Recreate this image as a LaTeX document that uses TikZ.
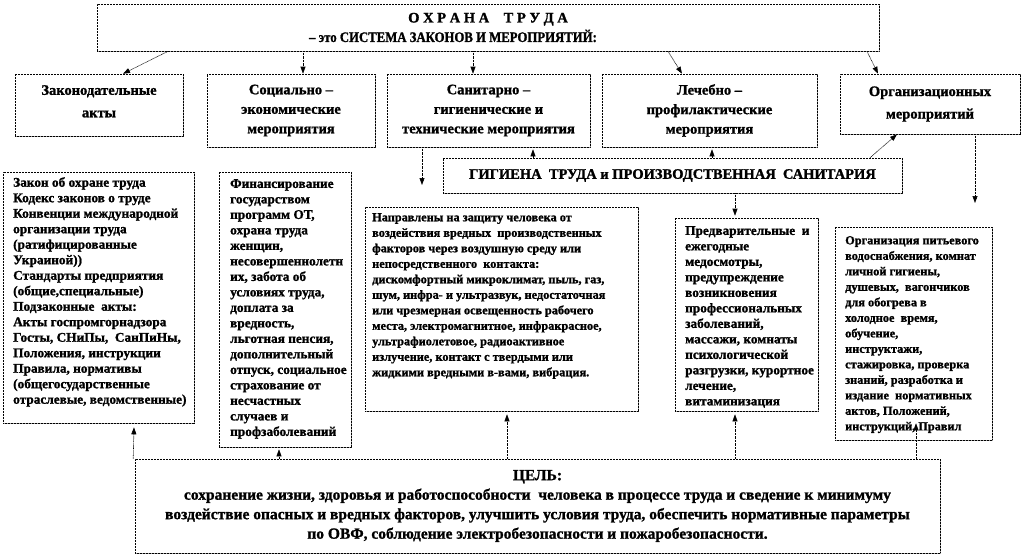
\documentclass[tikz,border=0pt]{standalone}
\usepackage{fontspec}
\setmainfont{Liberation Serif}[BoldFeatures={FakeBold=1.2}]
\usetikzlibrary{arrows.meta,calc,shadows}
\newcommand{\hdrfont}{\fontsize{14.5}{19.5}\selectfont\bfseries}
\newcommand{\detfont}{\fontsize{12.3}{15.5}\selectfont\bfseries}
\newcommand{\detbigfont}{\fontsize{13.3}{15.5}\selectfont\bfseries}
\newcommand{\goalfont}{\fontsize{15.5}{19.5}\selectfont\bfseries}
\begin{document}
\begin{tikzpicture}[x=1pt,y=-1pt,
  box/.style={draw=black, line width=0.6pt, dash pattern=on 0.9pt off 0.6pt, fill=white, inner sep=0pt,
    drop shadow={shadow xshift=1.2pt, shadow yshift=-1.2pt, fill=gray!70, opacity=1}},
  hdr/.style={box, align=center, font=\hdrfont},
  dtxt/.style={anchor=north west, align=left, inner sep=0pt, font=\detfont},
  dbig/.style={dtxt, font=\detbigfont},
  arr/.style={draw=black, line width=0.6pt, dash pattern=on 0.8pt off 0.6pt, -{Triangle[length=7pt,width=5pt]}}]
\useasboundingbox (0,0) rectangle (1026,558);
\fill[white] (0,0) rectangle (1026,558);

% top box
\node[hdr, minimum width=782pt, minimum height=47pt] (top) at (488,27.5)
  {О\ Х\ Р\ А\ Н\ А\ \ \ \ Т\ Р\ У\ Д\ А\\\makebox[0pt]{\scalebox{0.88}[1]{– это СИСТЕМА ЗАКОНОВ И МЕРОПРИЯТИЙ:}\hspace{70pt}}};

% row of boxes
\node[hdr, minimum width=168pt, minimum height=62pt] (zak) at (99,105) {Законодательные\\[3pt]акты\\[-12pt]};
\node[hdr, minimum width=168pt, minimum height=73pt] (soc) at (291,110.5) {Социально –\\экономические\\мероприятия};
\node[hdr, minimum width=203pt, minimum height=73pt] (san) at (488.5,110.5) {Санитарно –\\гигиенические и\\технические мероприятия};
\node[hdr, minimum width=215pt, minimum height=73pt] (lech) at (709.5,110.5) {Лечебно –\\профилактические\\мероприятия};
\node[hdr, minimum width=180pt, minimum height=60pt] (org) at (930,104) {Организационных\\[3pt]мероприятий};

% band
\node[hdr, minimum width=459pt, minimum height=35pt] (band) at (672.5,175.5) {ГИГИЕНА\ \ ТРУДА и ПРОИЗВОДСТВЕННАЯ\ \ САНИТАРИЯ};

% detail boxes
\node[box, minimum width=191pt, minimum height=251pt] (d1) at (98.5,297.5) {};
\node[box, minimum width=132pt, minimum height=275pt] (d2) at (285,309.5) {};
\node[box, minimum width=273pt, minimum height=204pt] (d3) at (501.5,309) {};
\node[box, minimum width=143pt, minimum height=193pt] (d4) at (746.5,314.5) {};
\node[box, minimum width=157pt, minimum height=213pt] (d5) at (913.5,333.5) {};

\node[dbig] (d1t) at (13,177) {Закон об охране труда\\Кодекс законов о труде\\Конвенции международной\\организации труда\\(ратифицированные\\Украиной))\\Стандарты предприятия\\(общие,специальные)\\Подзаконные\ \ акты:\\Акты госпромгорнадзора\\Госты, СНиПы,\ \ СанПиНы,\\Положения, инструкции\\Правила, нормативы\\(общегосударственные\\отраслевые, ведомственные)};

\node[dbig] (d2t) at (230,179) {Финансирование\\государством\\программ ОТ,\\охрана труда\\женщин,\\несовершеннолетн\\их, забота об\\условиях труда,\\доплата за\\вредность,\\льготная пенсия,\\дополнительный\\отпуск, социальное\\страхование от\\несчастных\\случаев и\\профзаболеваний};

\node[dtxt] (d3t) at (372,213) {Направлены на защиту человека от\\воздействия вредных\ \ производственных\\факторов через воздушную среду или\\непосредственного\ \ контакта:\\дискомфортный микроклимат, пыль, газ,\\шум, инфра- и ультразвук, недостаточная\\или чрезмерная освещенность рабочего\\места, электромагнитное, инфракрасное,\\ультрафиолетовое, радиоактивное\\излучение, контакт с твердыми или\\жидкими вредными в-вами, вибрация.};

\node[dbig] (d4t) at (685,226) {Предварительные\ \ и\\ежегодные\\медосмотры,\\предупреждение\\возникновения\\профессиональных\\заболеваний,\\массажи, комнаты\\психологической\\разгрузки, курортное\\лечение,\\витаминизация};

\node[dtxt] (d5t) at (845,236) {Организация питьевого\\водоснабжения, комнат\\личной гигиены,\\душевых,\ \ вагончиков\\для обогрева в\\холодное\ \ время,\\обучение,\\инструктажи,\\стажировка, проверка\\знаний, разработка и\\издание\ \ нормативных\\актов, Положений,\\инструкций, Правил};

% goal box
\node[box, minimum width=805pt, minimum height=94pt, align=center, font=\goalfont] (goal) at (537.5,506)
  {ЦЕЛЬ:\\сохранение жизни, здоровья и работоспособности\ \ человека в процессе труда и сведение к минимуму\\воздействие опасных и вредных факторов, улучшить условия труда, обеспечить нормативные параметры\\по ОВФ, соблюдение электробезопасности и пожаробезопасности.};

% connectors from top
\draw[arr] ([xshift=-320pt]top.south) -- ([xshift=24pt]zak.north);
\draw[arr] ([xshift=-185pt]top.south) -- ([xshift=12pt]soc.north);
\draw[arr] ([xshift=-15pt]top.south) -- ([xshift=-15.5pt]san.north);
\draw[arr] ([xshift=180pt]top.south) -- ([xshift=-27.5pt]lech.north);
\draw[arr] ([xshift=379pt]top.south) -- ([xshift=-52pt]org.north);

% sanitary down, org down
\coordinate (sd) at (422,185);
\coordinate (od) at (975,203);
\draw[arr] ([xshift=-66.5pt]san.south) -- (sd);
\draw[arr] ([xshift=45pt]org.south) -- (od);

% band connectors
\draw[arr] ([xshift=-139.5pt]band.north) -- ([xshift=44.5pt,yshift=-2pt]san.south);
\draw[arr] ([xshift=39.5pt]band.north) -- ([xshift=2.5pt,yshift=-2pt]lech.south);
\draw[arr] ([xshift=197.5pt]band.north) -- ([xshift=-33pt]org.south);
\draw[arr] ([xshift=62.5pt]band.south) -- ([xshift=-11.5pt,yshift=2pt]d4.north);

% goal connectors
\draw[arr] ([xshift=-1.5pt]goal.north west) -- ([xshift=35.5pt,yshift=-4pt]d1.south);
\draw[arr] ([xshift=-258.5pt]goal.north) -- ([xshift=-6pt,yshift=-2pt]d2.south);
\draw[arr] ([xshift=-30.5pt]goal.north) -- ([xshift=5.5pt,yshift=-3pt]d3.south);
\draw[arr] ([xshift=197.5pt]goal.north) -- ([xshift=-11.5pt,yshift=-3pt]d4.south);
\draw[arr] ([xshift=378.5pt]goal.north) -- ([xshift=2.5pt,yshift=17pt]d5.south);
\end{tikzpicture}
\end{document}
